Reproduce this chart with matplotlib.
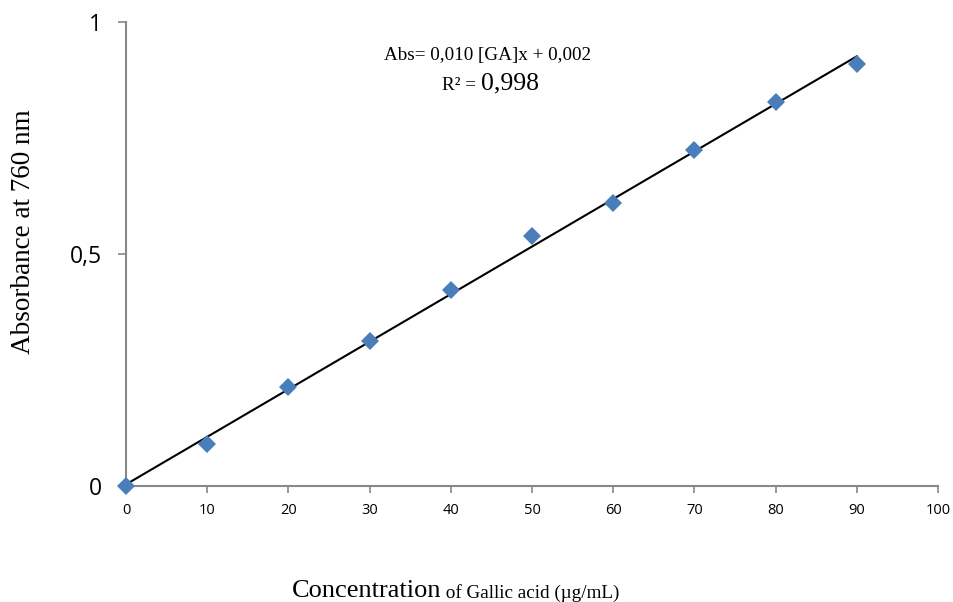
import numpy as np
import matplotlib
matplotlib.use("Agg")
import matplotlib.pyplot as plt

# concentration of gallic acid (ug/mL) and absorbance
conc = [0, 10, 20, 30, 40, 50, 60, 70, 80, 90]
absorb = [0.0, 0.090, 0.213, 0.312, 0.422, 0.539, 0.610, 0.724, 0.828, 0.909]
x_ticks = [0, 10, 20, 30, 40, 50, 60, 70, 80, 90, 100]
y_ticks = [0, 0.5, 1]
y_ticklabels = ["0", "0,5", "1"]

slope, intercept = np.polyfit(conc, absorb, 1)
xfit = np.array([conc[0], conc[-1]])

fig = plt.figure(figsize=(9.54, 6.02), dpi=100)
ax = fig.add_axes([0.1321, 0.1927, 0.8511, 0.7708])

ax.plot(xfit, slope * xfit + intercept, color="black", lw=1.5, zorder=2, clip_on=False)
ax.plot(conc, absorb, "D", color="#4A7EBB", markersize=9, markeredgewidth=0, zorder=3,
        clip_on=False)

ax.set_xlim(0, 100)
ax.set_ylim(0, 1)
ax.set_xticks(x_ticks)
ax.set_yticks(y_ticks)
ax.set_yticklabels(y_ticklabels)
for lab in ax.get_xticklabels():
    lab.set_fontfamily("Open Sans")
    lab.set_fontsize(10.5)
for lab in ax.get_yticklabels():
    lab.set_fontfamily("Open Sans")
    lab.set_fontsize(16.5)
ax.tick_params(axis="x", direction="out", length=5, color="#888888", width=1.2, pad=7)
ax.tick_params(axis="y", direction="out", length=6, color="#888888", width=1.2, pad=11)

for side in ["top", "right"]:
    ax.spines[side].set_visible(False)
for side in ["left", "bottom"]:
    ax.spines[side].set_color("#888888")
    ax.spines[side].set_linewidth(1.5)
ax.patch.set_visible(False)

ax.set_ylabel("Absorbance at 760 nm", fontfamily="Liberation Serif", fontsize=19.5)
ax.yaxis.set_label_coords(-0.111, 0.547)

# x label: large word followed by smaller text
t1 = fig.text(0.306, 0.008, "Concentration", fontfamily="Liberation Serif", fontsize=19,
              ha="left", va="baseline")
ax.annotate(" of Gallic acid (\u00b5g/mL)", xy=(1, 0), xycoords=t1, ha="left", va="bottom",
            fontfamily="Liberation Serif", fontsize=13.8)

ax.text(0.445, 0.927, "Abs= 0,010 [GA]x + 0,002", transform=ax.transAxes,
        fontfamily="Liberation Serif", fontsize=13.8, ha="center", va="center")
r1 = ax.text(0.437, 0.853, "R\u00b2 = ", transform=ax.transAxes,
             fontfamily="Liberation Serif", fontsize=13.8, ha="right", va="baseline")
ax.annotate("0,998", xy=(1, 0), xycoords=r1, ha="left", va="bottom",
            fontfamily="Liberation Serif", fontsize=18.5)

fig.savefig("out.png", dpi=100)
